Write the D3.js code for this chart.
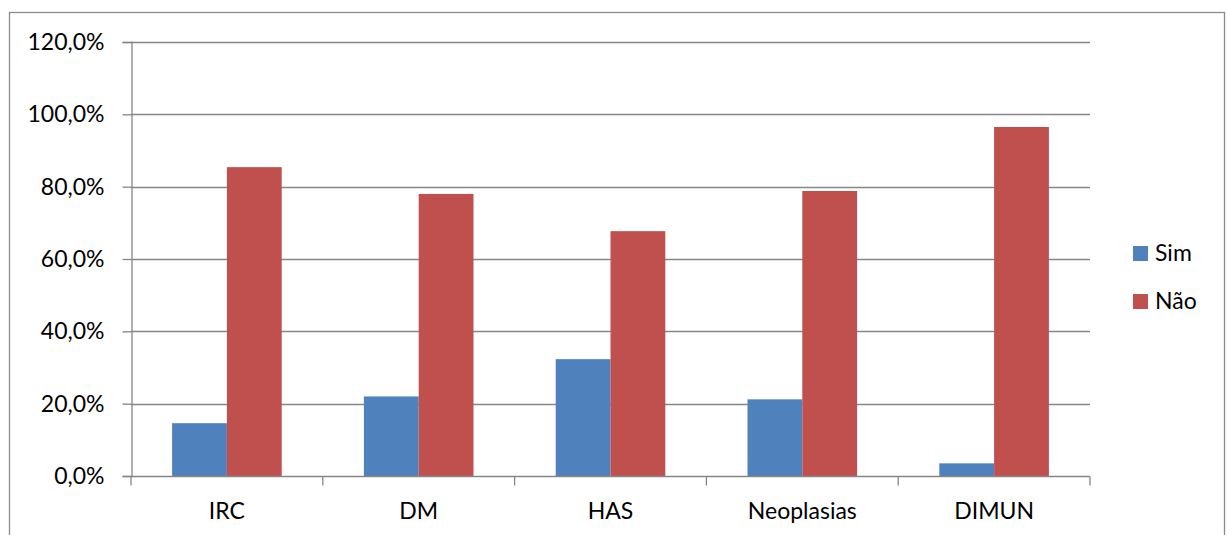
<!DOCTYPE html>
<html>
<head>
<meta charset="utf-8">
<script src="https://cdn.jsdelivr.net/npm/d3@7"></script>
<style>
  html, body { margin: 0; padding: 0; background: #fff; }
  svg { display: block; }
  text { font-family: Lato, "Open Sans", sans-serif; fill: #000; }
</style>
</head>
<body>
<svg id="chart" width="1227" height="535"></svg>
<script>
// Share of patients per condition (Sim / Não)
const categories = ["IRC", "DM", "HAS", "Neoplasias", "DIMUN"];
const seriesNames = ["Sim", "Não"];
const simValues = [0.146, 0.220, 0.323, 0.212, 0.035];
const naoValues = [0.854, 0.780, 0.677, 0.788, 0.965];
const yTicks = [0, 0.2, 0.4, 0.6, 0.8, 1.0, 1.2];
const colors = ["#4F81BD", "#C0504D"];
const fontSize = "23px";

const svg = d3.select("#chart");
const plotLeft = 131, plotRight = 1090, plotTop = 42, plotBottom = 476;

// Outer chart frame
svg.append("rect")
  .attr("x", 9.5).attr("y", 12.5)
  .attr("width", 1215).attr("height", 540)
  .attr("fill", "none").attr("stroke", "#8c8c8c").attr("stroke-width", 1.3);

const x = d3.scaleBand().domain(categories).range([plotLeft, plotRight]).paddingInner(0).paddingOuter(0);
const y = d3.scaleLinear().domain([0, 1.2]).range([plotBottom, plotTop]);
const fmt = v => d3.format(".1f")(v * 100).replace(".", ",") + "%";

// Horizontal gridlines
svg.append("g").selectAll("line").data(yTicks.filter(t => t > 0)).join("line")
  .attr("x1", plotLeft).attr("x2", plotRight)
  .attr("y1", d => Math.round(y(d)) + 0.5).attr("y2", d => Math.round(y(d)) + 0.5)
  .attr("stroke", "#868686").attr("stroke-width", 1.3);

// Bars: two series per category, gap width 150%
const band = x.bandwidth();
const barW = band / 3.5;
const groups = categories.map((c, i) => ({ c, vals: [simValues[i], naoValues[i]] }));
const g = svg.append("g");
groups.forEach(d => {
  d.vals.forEach((v, s) => {
    const bx = x(d.c) + band / 2 - barW + s * barW;
    g.append("rect")
      .attr("x", bx).attr("y", y(v))
      .attr("width", barW).attr("height", y(0) - y(v))
      .attr("fill", colors[s]);
  });
});

// Y axis
const yAxis = d3.axisLeft(y).tickValues(yTicks).tickFormat(fmt).tickSize(9).tickPadding(18);
const ya = svg.append("g").attr("transform", `translate(${plotLeft + 0.5},0)`).call(yAxis);
ya.select(".domain").attr("stroke", "#868686").attr("stroke-width", 1.3);
ya.selectAll(".tick line").attr("stroke", "#868686").attr("stroke-width", 1.3);
ya.selectAll(".tick text").style("font-size", fontSize).style("font-family", "Lato, sans-serif").attr("fill", "#000");

// X axis with ticks at category boundaries
const xa = svg.append("g").attr("transform", `translate(0,${plotBottom + 0.5})`);
xa.append("line").attr("x1", plotLeft).attr("x2", plotRight).attr("stroke", "#868686").attr("stroke-width", 1.3);
const boundaries = categories.map(c => x(c)).concat([plotRight]);
xa.selectAll("line.tk").data(boundaries).join("line").attr("class", "tk")
  .attr("x1", d => d).attr("x2", d => d).attr("y1", 0).attr("y2", 9)
  .attr("stroke", "#868686").attr("stroke-width", 1.3);
xa.selectAll("text").data(categories).join("text")
  .attr("x", d => x(d) + band / 2).attr("y", 518 - plotBottom)
  .attr("text-anchor", "middle").style("font-size", fontSize)
  .text(d => d);

// Legend
const lg = svg.append("g");
seriesNames.forEach((n, i) => {
  const ly = 246 + i * 48;
  lg.append("rect").attr("x", 1133).attr("y", ly).attr("width", 15).attr("height", 15).attr("fill", colors[i]);
  lg.append("text").attr("x", 1155).attr("y", ly + 15).style("font-size", fontSize).text(n);
});
</script>
</body>
</html>
